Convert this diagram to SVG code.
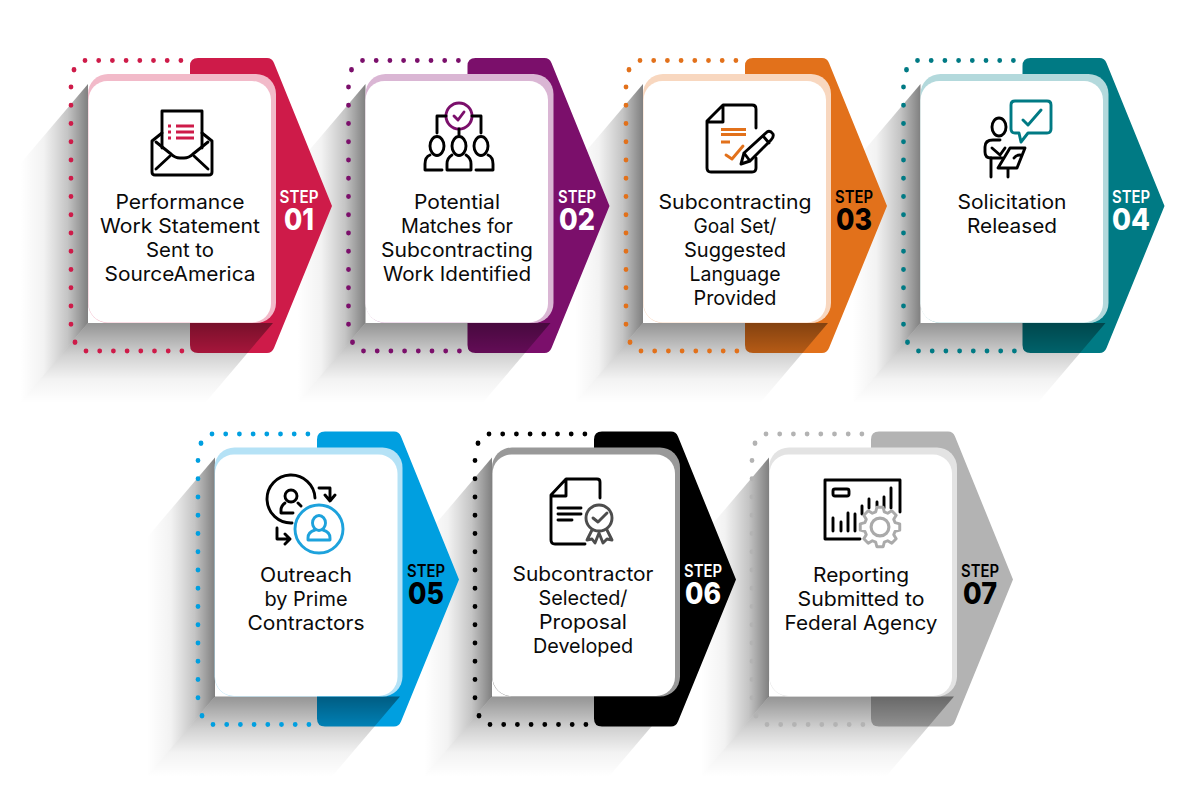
<svg xmlns="http://www.w3.org/2000/svg" width="1200" height="800" viewBox="0 0 1200 800">
<style>
text{font-family:"Inter","Liberation Sans",sans-serif}
.l{font-size:20px;fill:#0a0a0a;text-anchor:middle}
.s{font-size:17px;font-weight:600;fill:#fff;text-anchor:middle}
.n{font-size:30px;font-weight:800;fill:#fff;text-anchor:middle}
.k{fill:none;stroke:#000;stroke-width:2.9;stroke-linecap:round;stroke-linejoin:round}
.c{fill:none;stroke-width:2.9;stroke-linecap:round;stroke-linejoin:round}
.arrow{fill:currentColor}
.dot{fill:none;stroke:currentColor;stroke-width:4.8;stroke-linecap:round}
.card{fill:#fff}
</style>
<defs>
<linearGradient id="sl" x1="1" y1="0" x2="0" y2="0"><stop offset="0" stop-color="#000" stop-opacity=".5"/><stop offset=".3" stop-color="#000" stop-opacity=".23"/><stop offset=".65" stop-color="#000" stop-opacity=".05"/><stop offset="1" stop-color="#000" stop-opacity="0"/></linearGradient>
<linearGradient id="sb" x1="0" y1="0" x2="0" y2="1"><stop offset="0" stop-color="#000" stop-opacity=".42"/><stop offset=".4" stop-color="#000" stop-opacity=".18"/><stop offset=".7" stop-color="#000" stop-opacity=".05"/><stop offset="1" stop-color="#000" stop-opacity="0"/></linearGradient>
<g id="base">
<path class="arrow" d="M198 58H267Q272 58 274 63L332 206 274 348Q272 353 267 353H198Q190 353 190 345V66Q190 58 198 58Z"/>
<polygon fill="url(#sl)" points="88,84 88,323 20,403 20,164"/>
<polygon fill="url(#sb)" points="88,323 273,323 205,403 20,403"/>
<path class="dot" stroke-dasharray="0 13.7" d="M85 60.500H183"/>
<path class="dot" stroke-dasharray="0 13.7" d="M86 351H183"/>
<path class="dot" stroke-dasharray="0 18.25" d="M71 87V327"/>
<path class="dot" d="M74 69.500V70M75 342V342.500"/>
</g>
<rect id="panel" class="card" x="88.500" y="81" width="182.500" height="241.500" rx="19"/>
</defs>

<g id="node-7" style="color:#b3b3b3">
<use href="#base" transform="translate(681,373.500)"/>
<rect x="769" y="447.500" width="188" height="249" rx="20" fill="#e3e3e3"/>
<use href="#panel" transform="translate(681,373.500)"/>
<path class="k" d="M860 539H825V480H900V512"/>
<rect class="k" x="833" y="489" width="16" height="7" rx="2"/>
<path class="k" d="M833 518V531M841 522V531M848 513V531M855 514V531M862 506V514M869 499V508M877 502V506M884 497V508M891 488V508"/>
<g transform="translate(880,527) scale(1.050)"><path fill="#fff" stroke="#aaa" stroke-width="2.800" stroke-linejoin="round" d="M18.800 3L14.400 4.100 13.100 7.300 15.400 11.200 11.200 15.400 7.300 13.100 4.100 14.400 3 18.800H-3L-4.100 14.400-7.300 13.100-11.200 15.400-15.400 11.200-13.100 7.300-14.400 4.100-18.800 3V-3L-14.400-4.100-13.100-7.300-15.400-11.200-11.200-15.400-7.300-13.100-4.100-14.400-3-18.800H3L4.100-14.400 7.300-13.100 11.200-15.400 15.400-11.200 13.100-7.300 14.400-4.100 18.800-3Z"/><circle r="8.500" fill="none" stroke="#aaa" stroke-width="3"/></g>
<text class="l" x="861" y="582" textLength="96" lengthAdjust="spacingAndGlyphs">Reporting</text>
<text class="l" x="861" y="606" textLength="127" lengthAdjust="spacingAndGlyphs">Submitted to</text>
<text class="l" x="861" y="630" textLength="153" lengthAdjust="spacingAndGlyphs">Federal Agency</text>
<text class="s" x="980" y="576.500" textLength="38" lengthAdjust="spacingAndGlyphs" style="fill:#000">STEP</text>
<text class="n" x="980" y="603.500" textLength="34" lengthAdjust="spacingAndGlyphs" style="fill:#000">07</text>
</g>

<g id="node-6" style="color:#000">
<use href="#base" transform="translate(404,373.500)"/>
<rect x="492" y="447.500" width="188" height="249" rx="20" fill="#999"/>
<use href="#panel" transform="translate(404,373.500)"/>
<path class="k" d="M585 544H555Q551 544 551 540V495L566 479H597Q600 479 600 482V498M566 480V496H552"/>
<path class="k" d="M558 508H581M558 514H581M558 520H572"/>
<circle cx="599" cy="518" r="13" fill="none" stroke="#4d4d4d" stroke-width="2.900"/>
<path class="c" stroke="#4d4d4d" d="M593 518L598 522 607 513M592 530L587 540 592 539 595 543 599 533 603 543 607 539 612 540 607 530"/>
<text class="l" x="583" y="581" textLength="141" lengthAdjust="spacingAndGlyphs">Subcontractor</text>
<text class="l" x="583" y="605" textLength="89" lengthAdjust="spacingAndGlyphs">Selected/</text>
<text class="l" x="583" y="629" textLength="88" lengthAdjust="spacingAndGlyphs">Proposal</text>
<text class="l" x="583" y="653" textLength="100" lengthAdjust="spacingAndGlyphs">Developed</text>
<text class="s" x="703" y="576.500" textLength="38" lengthAdjust="spacingAndGlyphs">STEP</text>
<text class="n" x="703" y="603.500" textLength="36" lengthAdjust="spacingAndGlyphs">06</text>
</g>

<g id="node-5" style="color:#009fe0">
<use href="#base" transform="translate(127,373.500)"/>
<rect x="214.500" y="447.500" width="188" height="249" rx="20" fill="#b5e2f6"/>
<use href="#panel" transform="translate(126.500,373.500)"/>
<path class="k" d="M315 498A24 24 0 1 0 292 523"/>
<circle class="k" cx="291" cy="496" r="6"/>
<path class="k" d="M285 503Q281 506 281 510V513H293M298 503L301 506"/>
<path class="k" d="M319 488H330V500M325 495L330 501 335 495M277 528V539H289M285 534L290 539 285 544"/>
<circle class="c" stroke="#1da2dc" cx="319" cy="529" r="24"/>
<ellipse class="c" stroke="#1da2dc" cx="319" cy="523" rx="6.500" ry="7.500"/>
<path class="c" stroke="#1da2dc" d="M315 530Q308 532 308 538V540H330V538Q330 532 323 530"/>
<text class="l" x="306" y="582" textLength="92" lengthAdjust="spacingAndGlyphs">Outreach</text>
<text class="l" x="306" y="606" textLength="83" lengthAdjust="spacingAndGlyphs">by Prime</text>
<text class="l" x="306" y="630" textLength="117" lengthAdjust="spacingAndGlyphs">Contractors</text>
<text class="s" x="426" y="576.500" textLength="38" lengthAdjust="spacingAndGlyphs" style="fill:#000">STEP</text>
<text class="n" x="426" y="603.500" textLength="36" lengthAdjust="spacingAndGlyphs" style="fill:#000">05</text>
</g>

<g id="node-4" style="color:#007a84">
<use href="#base" transform="translate(832.500,0)"/>
<rect x="920.500" y="74" width="188" height="249" rx="20" fill="#b3d9dc"/>
<use href="#panel" transform="translate(832,0)"/>
<path class="c" stroke="#007a84" d="M1015 101H1047Q1051 101 1051 105V129Q1051 133 1047 133H1028L1021 142 1019 133H1015Q1011 133 1011 129V105Q1011 101 1015 101ZM1023 120L1028 125 1041 110"/>
<ellipse class="k" cx="999" cy="127" rx="7" ry="9"/>
<path class="k" d="M1000 140H993Q985 140 985 147V152Q985 158 991 158H1002M992 148L1000 155 1005 148"/>
<path class="k" d="M1010 148H1025L1017 168H998ZM1014 158Q1016 155 1020 155M991 158V177M1008 168V177"/>
<text class="l" x="1012" y="209" textLength="109" lengthAdjust="spacingAndGlyphs">Solicitation</text>
<text class="l" x="1012" y="233" textLength="90" lengthAdjust="spacingAndGlyphs">Released</text>
<text class="s" x="1131" y="203" textLength="38" lengthAdjust="spacingAndGlyphs">STEP</text>
<text class="n" x="1131" y="230" textLength="38" lengthAdjust="spacingAndGlyphs">04</text>
</g>

<g id="node-3" style="color:#e2711b">
<use href="#base" transform="translate(555,0)"/>
<rect x="643" y="74" width="188" height="249" rx="20" fill="#f8d7bf"/>
<use href="#panel" transform="translate(555,0)"/>
<path class="k" d="M756 158V168Q756 172 752 172H711Q707 172 707 168V121L723 105H752Q756 105 756 109V128M723 106V122H708"/>
<path fill="#e2711b" d="M721 128H746V131H721ZM721 133H746V136H721ZM721 140.500H730V143.500H721Z"/>
<path class="c" stroke="#e2711b" d="M726 155L732 159 743 146"/>
<path class="k" d="M741 164L744 153 767 132Q770 130 773 134 774 137 771 140L750 161ZM744 153L750 161M763 136L769 143"/>
<text class="l" x="735" y="209" textLength="153" lengthAdjust="spacingAndGlyphs">Subcontracting</text>
<text class="l" x="735" y="233" textLength="83" lengthAdjust="spacingAndGlyphs">Goal Set/</text>
<text class="l" x="735" y="257" textLength="102" lengthAdjust="spacingAndGlyphs">Suggested</text>
<text class="l" x="735" y="281" textLength="91" lengthAdjust="spacingAndGlyphs">Language</text>
<text class="l" x="735" y="305" textLength="83" lengthAdjust="spacingAndGlyphs">Provided</text>
<text class="s" x="854" y="203" textLength="38" lengthAdjust="spacingAndGlyphs" style="fill:#000">STEP</text>
<text class="n" x="854" y="230" textLength="36" lengthAdjust="spacingAndGlyphs" style="fill:#000">03</text>
</g>

<g id="node-2" style="color:#7b0f6b">
<use href="#base" transform="translate(277.500,0)"/>
<rect x="365.500" y="74" width="188" height="249" rx="20" fill="#dab6d4"/>
<use href="#panel" transform="translate(277,0)"/>
<circle class="c" stroke="#7b0f6b" cx="459" cy="116" r="13"/>
<path class="c" stroke="#7b0f6b" d="M454 116L458 120 464 112"/>
<path class="k" d="M446 116H437V133M472 116H481V133M459 129V135"/>
<ellipse class="k" cx="437" cy="146" rx="7" ry="9.500"/>
<ellipse class="k" cx="459" cy="146" rx="7" ry="9.500"/>
<ellipse class="k" cx="481" cy="146" rx="7" ry="9.500"/>
<path class="k" d="M430 155Q425 157 425 164V170H442M447 170V164Q447 158 452 155M466 155Q471 158 471 164V170H449M476 170H493V164Q493 157 488 155"/>
<text class="l" x="457" y="209" textLength="86" lengthAdjust="spacingAndGlyphs">Potential</text>
<text class="l" x="457" y="233" textLength="112" lengthAdjust="spacingAndGlyphs">Matches for</text>
<text class="l" x="457" y="257" textLength="152" lengthAdjust="spacingAndGlyphs">Subcontracting</text>
<text class="l" x="457" y="281" textLength="148" lengthAdjust="spacingAndGlyphs">Work Identified</text>
<text class="s" x="577" y="203" textLength="38" lengthAdjust="spacingAndGlyphs">STEP</text>
<text class="n" x="577" y="230" textLength="36" lengthAdjust="spacingAndGlyphs">02</text>
</g>

<g id="node-1" style="color:#ce1b49">
<use href="#base"/>
<rect x="88" y="74" width="188" height="249" rx="20" fill="#f2bac9"/>
<use href="#panel"/>
<path class="k" d="M162 148V111H202V148"/>
<path class="k" d="M162 133L152 141V172Q152 175 155 175H209Q212 175 212 172V141L202 133"/>
<path class="k" d="M156 142L171 154Q175 158 180 158H184Q189 158 193 154L208 142M156 169L170 156M208 169L194 156"/>
<path fill="#ce1b49" d="M168 124.500H171V127.500H168ZM176 124.500H194V127.500H176ZM168 130.500H171V133.500H168ZM176 130.500H194V133.500H176ZM168 136.500H171V139.500H168ZM176 136.500H194V139.500H176Z"/>
<text class="l" x="180" y="209" textLength="129" lengthAdjust="spacingAndGlyphs">Performance</text>
<text class="l" x="180" y="233" textLength="160" lengthAdjust="spacingAndGlyphs">Work Statement</text>
<text class="l" x="180" y="257" textLength="68" lengthAdjust="spacingAndGlyphs">Sent to</text>
<text class="l" x="180" y="281" textLength="151" lengthAdjust="spacingAndGlyphs">SourceAmerica</text>
<text class="s" x="299" y="203" textLength="39" lengthAdjust="spacingAndGlyphs">STEP</text>
<text class="n" x="299" y="230" textLength="30" lengthAdjust="spacingAndGlyphs">01</text>
</g>
</svg>
